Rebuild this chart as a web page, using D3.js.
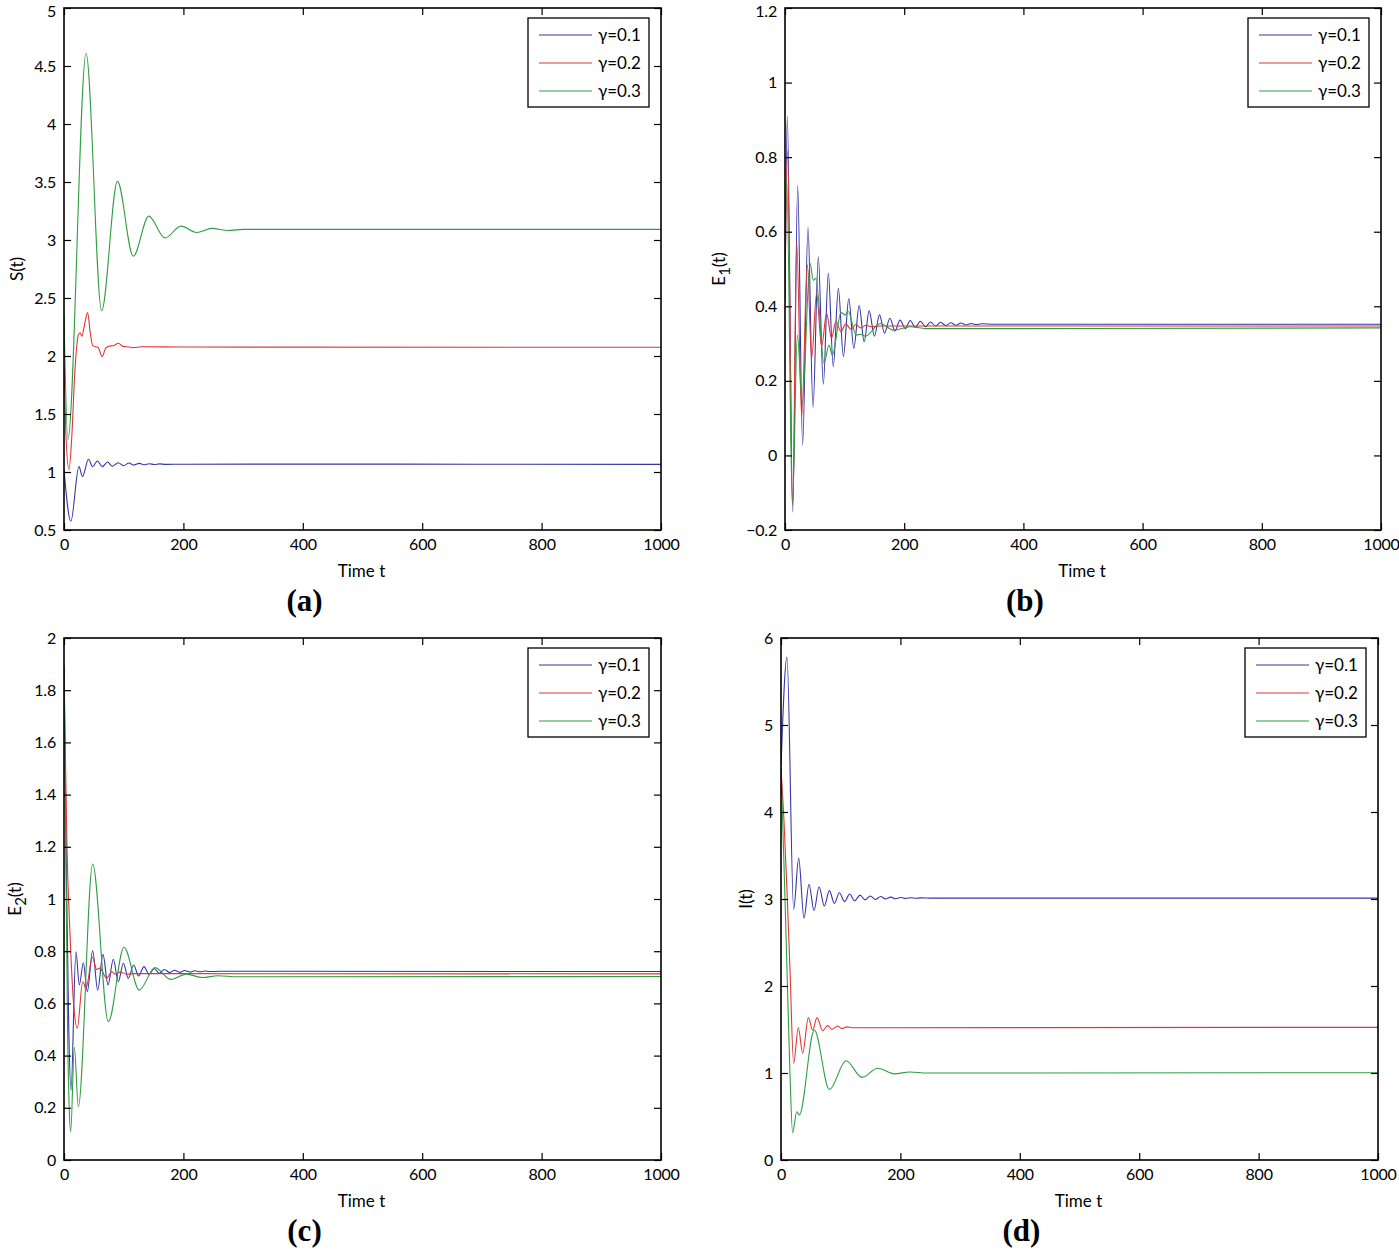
<!DOCTYPE html>
<html>
<head>
<meta charset="utf-8">
<script src="https://cdn.jsdelivr.net/npm/d3@7"></script>
<style>
  body { margin: 0; background: #fff; }
  svg { display: block; }
  text { font-family: Lato, "Open Sans", sans-serif; }
</style>
</head>
<body>
<svg id="chart" width="1399" height="1252"></svg>
<script>
// ---------------- DATA ----------------
const seriesNames = ["γ=0.1", "γ=0.2", "γ=0.3"];
const xTicks = [0, 200, 400, 600, 800, 1000];
const xTickLabels = ["0", "200", "400", "600", "800", "1000"];

// Panel (a) S(t)
const S_g1 = [[0,1.02],[11.5,0.575],[25,1.046],[31,0.96],[41,1.11],[48,1.046],[56,1.095],[64,1.046],[73,1.086],[81,1.05],[91,1.08],[99.5,1.055],[109,1.077],[116,1.06],[126,1.074],[134,1.062],[143,1.071],[151,1.065],[160,1.07],[170,1.066],[200,1.067],[400,1.068],[700,1.067],[1000,1.066]];
const S_g2 = [[0,1.9],[3,1.35],[8.4,1.02],[13,1.3],[18,1.85],[24,2.18],[27,2.2],[30,2.17],[34,2.26],[39.5,2.374],[44,2.2],[48,2.09],[53,2.08],[57,2.075],[64,1.994],[70,2.07],[76,2.085],[83,2.09],[91,2.11],[99,2.083],[108,2.078],[116,2.072],[130,2.08],[200,2.077],[1000,2.075]];
const S_g3 = [[0,2.35],[6.5,1.28],[37,4.61],[63,2.39],[89.5,3.505],[116,2.86],[142,3.206],[169,3.018],[196,3.12],[222,3.065],[248,3.1],[275,3.082],[300,3.092],[1000,3.092]];
const S_yTicks = [0.5,1,1.5,2,2.5,3,3.5,4,4.5,5];
const S_yLabels = ["0.5","1","1.5","2","2.5","3","3.5","4","4.5","5"];

// Panel (b) E1(t)
const E1_g1 = [[0,0.42],[3.9,0.91],[12.9,-0.152],[21.3,0.723],[29.6,0.028],[38.6,0.612],[47,0.129],[55.9,0.533],[64.3,0.191],[72.7,0.489],[81,0.238],[89.5,0.448],[98,0.265],[107,0.421],[115.5,0.287],[124.4,0.402],[132.8,0.305],[141.2,0.388],[150,0.32],[158.6,0.377],[167,0.328],[176,0.368],[184.5,0.334],[193,0.363],[202,0.34],[210,0.362],[219,0.343],[227,0.36],[236,0.345],[244,0.358],[253,0.347],[261,0.357],[270,0.348],[278,0.356],[287,0.349],[295,0.355],[304,0.35],[312,0.354],[321,0.351],[330,0.353],[350,0.352],[1000,0.352]];
const E1_g2 = [[0,0.42],[4,0.819],[13,-0.133],[19.6,0.573],[28,0.104],[37.5,0.511],[44.7,0.261],[53,0.435],[61.4,0.292],[69.8,0.381],[78,0.314],[85.4,0.359],[93.8,0.332],[102,0.353],[110.6,0.338],[119,0.351],[127,0.342],[136,0.349],[145,0.345],[160,0.347],[1000,0.347]];
const E1_g3 = [[0,0.42],[2.8,0.743],[12.4,-0.133],[20.8,0.323],[29,0.14],[42,0.515],[47.5,0.47],[52,0.475],[65.4,0.247],[73.8,0.296],[79.4,0.269],[94,0.383],[100.7,0.377],[106,0.386],[119.4,0.323],[127,0.325],[135,0.32],[160,0.354],[182,0.336],[210,0.345],[240,0.34],[1000,0.342]];
const E1_yTicks = [-0.2,0,0.2,0.4,0.6,0.8,1,1.2];
const E1_yLabels = ["\u22120.2","0","0.2","0.4","0.6","0.8","1","1.2"];

// Panel (c) E2(t)
const E2_g1 = [[0,1.897],[4,1.1],[8,0.5],[11.7,0.266],[20,0.798],[25.7,0.671],[32.4,0.756],[39,0.645],[48,0.802],[56.4,0.651],[65.3,0.788],[73.7,0.671],[82.6,0.769],[91,0.683],[99.4,0.754],[107.8,0.696],[116.7,0.747],[125,0.705],[134,0.741],[142.4,0.711],[151,0.734],[159.7,0.715],[168,0.73],[177,0.718],[185,0.727],[194,0.719],[202,0.726],[211,0.72],[219,0.725],[228,0.721],[236,0.724],[245,0.722],[260,0.723],[1000,0.722]];
const E2_g2 = [[0,1.88],[2,1.6],[5,1.2],[10,0.87],[16,0.6],[22.3,0.505],[31.3,0.683],[36.9,0.658],[47.5,0.777],[54.8,0.73],[60.3,0.735],[71.5,0.696],[80,0.721],[85.6,0.712],[94,0.72],[105,0.712],[120,0.714],[1000,0.713]];
const E2_g3 = [[0,1.87],[3,1.2],[6,0.5],[9,0.18],[11.2,0.108],[17.3,0.432],[24,0.204],[48,1.134],[74.3,0.53],[100.5,0.815],[126,0.651],[152.4,0.737],[179,0.692],[205,0.712],[232,0.699],[258,0.706],[290,0.702],[1000,0.703]];
const E2_yTicks = [0,0.2,0.4,0.6,0.8,1,1.2,1.4,1.6,1.8,2];
const E2_yLabels = ["0","0.2","0.4","0.6","0.8","1","1.2","1.4","1.6","1.8","2"];

// Panel (d) I(t)
const I_g1 = [[0,4.52],[10,5.78],[21.2,2.88],[29.6,3.47],[38.5,2.78],[46.9,3.17],[55.3,2.866],[63.7,3.14],[72.6,2.92],[81,3.096],[89.4,2.95],[97.7,3.072],[106.7,2.97],[115,3.057],[123.5,2.98],[132.4,3.045],[141,2.99],[149.6,3.035],[158,2.995],[167,3.028],[175,3.0],[184,3.022],[192,3.003],[201,3.018],[209,3.006],[218,3.015],[226,3.008],[235,3.013],[250,3.01],[1000,3.01]];
const I_g2 = [[0,4.5],[5,3.9],[10,3.1],[15,2.2],[21.2,1.111],[29,1.52],[36.3,1.226],[45.8,1.636],[53,1.494],[60.3,1.636],[69.8,1.486],[78,1.544],[85.4,1.502],[95,1.54],[102,1.51],[110,1.53],[120,1.52],[1000,1.525]];
const I_g3 = [[0,4.5],[5,3.4],[10,2.2],[15,1.0],[19.5,0.314],[26.3,0.555],[30.7,0.517],[55.8,1.494],[81,0.81],[109,1.14],[135.7,0.95],[162,1.054],[190,0.99],[216,1.012],[245,1.0],[1000,1.003]];
const I_yTicks = [0,1,2,3,4,5,6];
const I_yLabels = ["0","1","2","3","4","5","6"];

// ---------------- LAYOUT / STYLE ----------------
const colors = ["#3535a8", "#e03636", "#2f9e42"];
const panels = [
  { id:"a", x0:64,  x1:661,  y0:8,   y1:530,  ydom:[0.5,5],  yt:S_yTicks,  yl:S_yLabels,  series:[S_g1,S_g2,S_g3],  ylab:"S", sub:null, ylabX:17,  tag:"(a)" },
  { id:"b", x0:785, x1:1381, y0:8,   y1:530,  ydom:[-0.2,1.2], yt:E1_yTicks, yl:E1_yLabels, series:[E1_g1,E1_g2,E1_g3], ylab:"E", sub:"1", ylabX:719, tag:"(b)" },
  { id:"c", x0:64,  x1:661,  y0:638, y1:1160, ydom:[0,2],    yt:E2_yTicks, yl:E2_yLabels, series:[E2_g1,E2_g2,E2_g3], ylab:"E", sub:"2", ylabX:15,  tag:"(c)" },
  { id:"d", x0:781, x1:1378, y0:638, y1:1160, ydom:[0,6],    yt:I_yTicks,  yl:I_yLabels,  series:[I_g1,I_g2,I_g3],  ylab:"I", sub:null, ylabX:746, tag:"(d)" }
];

const svg = d3.select("#chart");
const defs = svg.append("defs");

panels.forEach(p => {
  const x = d3.scaleLinear().domain([0,1000]).range([p.x0, p.x1]);
  const y = d3.scaleLinear().domain(p.ydom).range([p.y1, p.y0]);
  const g = svg.append("g");

  defs.append("clipPath").attr("id","clip-"+p.id)
    .append("rect").attr("x",p.x0).attr("y",p.y0).attr("width",p.x1-p.x0).attr("height",p.y1-p.y0);

  // lines
  const line = d3.line().x(d => x(d[0])).y(d => y(d[1])).curve(d3.curveMonotoneX);
  const lg = g.append("g").attr("clip-path","url(#clip-"+p.id+")");
  p.series.forEach((s,i) => {
    lg.append("path").datum(s).attr("d", line)
      .attr("fill","none").attr("stroke",colors[i]).attr("stroke-width",1.1);
  });

  // axes
  const fmtY = d => p.yl[p.yt.indexOf(d)];
  const fmtX = d => xTickLabels[xTicks.indexOf(d)];
  const axL = g.append("g").attr("transform",`translate(${p.x0},0)`)
    .call(d3.axisLeft(y).tickValues(p.yt).tickFormat(fmtY).tickSize(-7).tickSizeOuter(0).tickPadding(8));
  const axB = g.append("g").attr("transform",`translate(0,${p.y1})`)
    .call(d3.axisBottom(x).tickValues(xTicks).tickFormat(fmtX).tickSize(-7).tickSizeOuter(0).tickPadding(9));
  const axR = g.append("g").attr("transform",`translate(${p.x1},0)`)
    .call(d3.axisRight(y).tickValues(p.yt).tickFormat("").tickSize(-7).tickSizeOuter(0));
  const axT = g.append("g").attr("transform",`translate(0,${p.y0})`)
    .call(d3.axisTop(x).tickValues(xTicks).tickFormat("").tickSize(-7).tickSizeOuter(0));
  [axL,axB,axR,axT].forEach(a => {
    a.select(".domain").remove();
    a.selectAll(".tick line").attr("stroke","#000").attr("stroke-width",1.2);
    a.selectAll("text").attr("font-size",16).attr("fill","#000")
      .attr("letter-spacing","-0.2px")
      .style("font-family","Lato, 'Open Sans', sans-serif");
  });
  // keep the topmost y label inside the page
  if (p.y0 < 20) {
    axL.selectAll(".tick text").filter(d => d === p.yt[p.yt.length-1]).attr("dy","0.55em");
  }

  // frame
  g.append("rect").attr("x",p.x0).attr("y",p.y0).attr("width",p.x1-p.x0).attr("height",p.y1-p.y0)
    .attr("fill","none").attr("stroke","#000").attr("stroke-width",1.6);

  // x label
  const cx = (p.x0+p.x1)/2;
  g.append("text").attr("x",cx-1).attr("y",p.y1+47).attr("text-anchor","middle")
    .attr("font-size",17).text("Time t");
  // tag
  g.append("text").attr("x",cx-58).attr("y",p.y1+81).attr("text-anchor","middle")
    .attr("font-size",31).attr("font-weight","bold")
    .style("font-family","'Liberation Serif', 'DejaVu Serif', serif").text(p.tag);

  // y label
  const cy = (p.y0+p.y1)/2;
  const yl = g.append("text").attr("transform",`translate(${p.ylabX+6},${cy}) rotate(-90)`)
    .attr("text-anchor","middle").attr("font-size",17);
  if (p.sub) {
    yl.append("tspan").text(p.ylab);
    yl.append("tspan").attr("dy",5).attr("font-size",15).text(p.sub);
    yl.append("tspan").attr("dy",-5).text("(t)");
  } else {
    yl.text(p.ylab + "(t)");
  }

  // legend
  const bx = p.x1 - 133, by = p.y0 + 10;
  const leg = g.append("g");
  leg.append("rect").attr("x",bx).attr("y",by).attr("width",121).attr("height",89)
    .attr("fill","#fff").attr("stroke","#000").attr("stroke-width",1.3);
  seriesNames.forEach((n,i) => {
    const ry = by + 17 + i*28;
    leg.append("line").attr("x1",bx+11).attr("x2",bx+64).attr("y1",ry).attr("y2",ry)
      .attr("stroke",colors[i]).attr("stroke-width",1.1);
    leg.append("text").attr("x",bx+70).attr("y",ry+6).attr("font-size",17).text(n);
  });
});
</script>
</body>
</html>
